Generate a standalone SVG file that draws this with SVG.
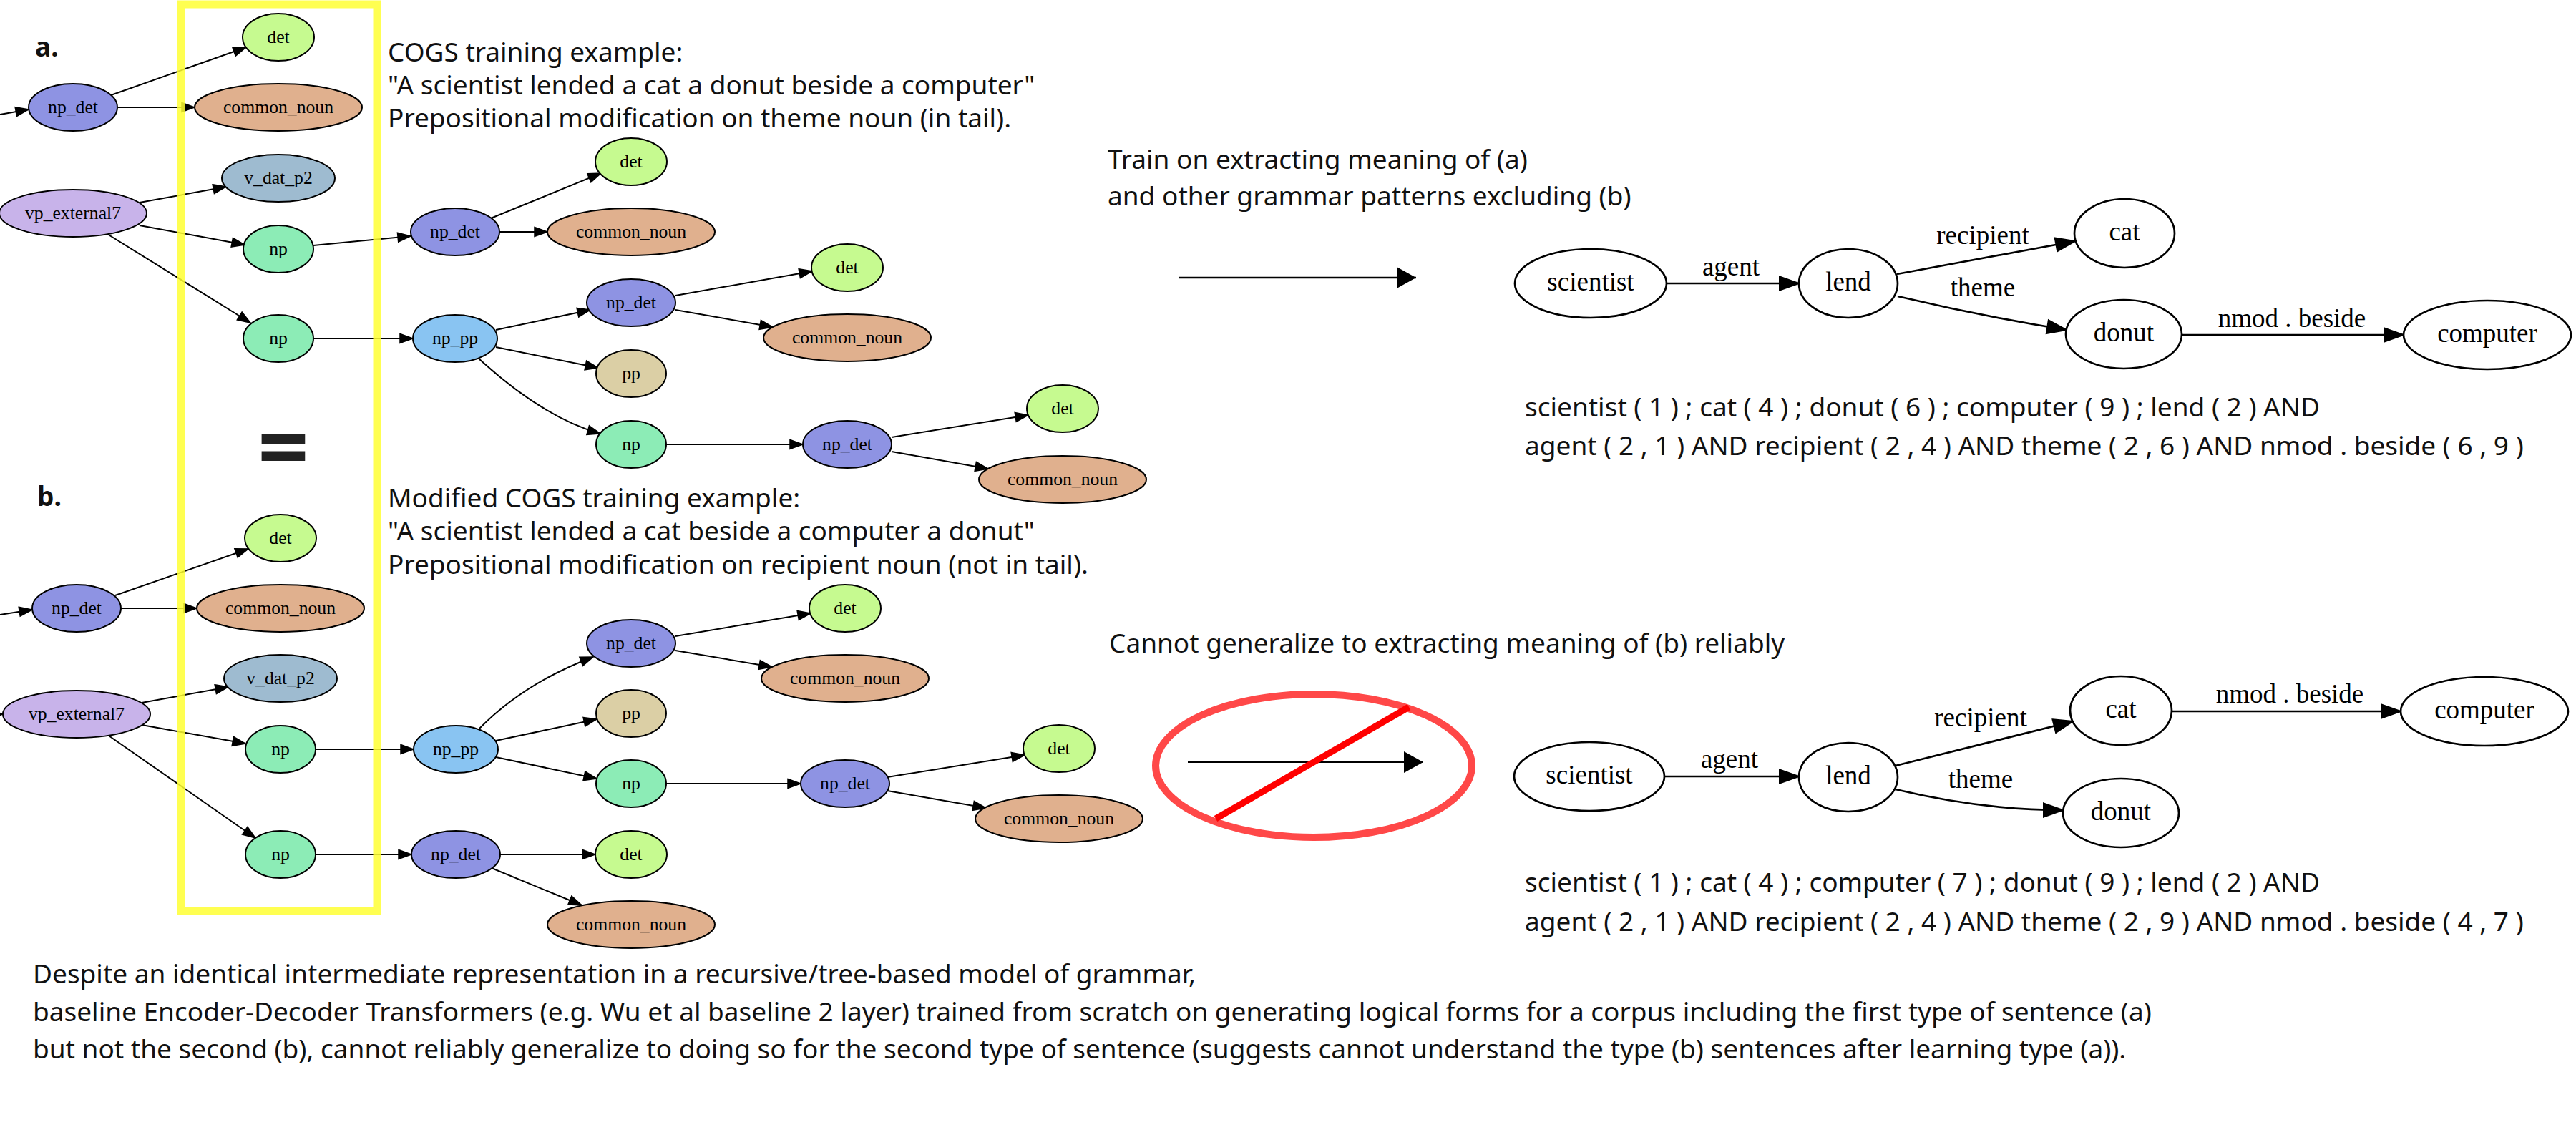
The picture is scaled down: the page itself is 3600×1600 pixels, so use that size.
<svg xmlns="http://www.w3.org/2000/svg" width="3600" height="1600" viewBox="0 0 3600 1600">
<defs>
<style>
.t{font-family:"Noto Sans","Open Sans","DejaVu Sans",sans-serif;font-size:37px;fill:#111}
.lb{font-family:"Noto Sans","Open Sans",sans-serif;font-size:37px;font-weight:bold;fill:#111}
.n ellipse{stroke:#000;stroke-width:2}
.n text{font-family:"Liberation Serif","Times New Roman",serif;font-size:25.7px;text-anchor:middle;fill:#000}
.r ellipse{fill:#fff;stroke:#000;stroke-width:2.7}
.r text{font-family:"Liberation Serif","Times New Roman",serif;font-size:37px;text-anchor:middle;fill:#000}
.e path{fill:none;stroke:#000;stroke-width:2;marker-end:url(#ah)}
.E path{fill:none;stroke:#000;stroke-width:2.7;marker-end:url(#AH)}
.E text{font-family:"Liberation Serif","Times New Roman",serif;font-size:37px;text-anchor:middle;fill:#000}
.det ellipse{fill:#c6fa90}
.cn ellipse{fill:#e0b08e}
.npd ellipse{fill:#8e93e3}
.vd ellipse{fill:#9ebbd0}
.vp ellipse{fill:#c8b3ea}
.np ellipse{fill:#8cecb6}
.npp ellipse{fill:#89c4f2}
.pp ellipse{fill:#dbcfa5}
</style>
<marker id="ah" markerUnits="userSpaceOnUse" markerWidth="24" markerHeight="18" refX="20" refY="9" orient="auto" overflow="visible">
<path d="M2,2.5 L20,9 L2,15.5 z" fill="#000" stroke="#000" stroke-width="1.5"/>
</marker>
<marker id="AH" markerUnits="userSpaceOnUse" markerWidth="32" markerHeight="24" refX="28" refY="12" orient="auto" overflow="visible">
<path d="M1,2.5 L28,12 L1,21.5 z" fill="#000" stroke="#000" stroke-width="2"/>
</marker>
<marker id="BH" markerUnits="userSpaceOnUse" markerWidth="32" markerHeight="34" refX="28" refY="17" orient="auto" overflow="visible">
<path d="M1,2 L28,17 L1,32 z" fill="#000"/>
</marker>
</defs>
<rect width="3600" height="1600" fill="#fff"/>

<!-- texts -->
<g id="texts">
<text class="lb" x="49" y="79">a.</text>
<text class="lb" x="52" y="707">b.</text>
<text class="t" x="542" y="86">COGS training example:</text>
<text class="t" x="542" y="132">"A scientist lended a cat a donut beside a computer"</text>
<text class="t" x="542" y="178">Prepositional modification on theme noun (in tail).</text>
<text class="t" x="542" y="709">Modified COGS training example:</text>
<text class="t" x="542" y="755">"A scientist lended a cat beside a computer a donut"</text>
<text class="t" x="542" y="802">Prepositional modification on recipient noun (not in tail).</text>
<text class="t" x="1548" y="236">Train on extracting meaning of (a)</text>
<text class="t" x="1548" y="287">and other grammar patterns excluding (b)</text>
<text class="t" x="1550" y="912">Cannot generalize to extracting meaning of (b) reliably</text>
<text class="t" x="2131" y="582">scientist ( 1 ) ; cat ( 4 ) ; donut ( 6 ) ; computer ( 9 ) ; lend ( 2 ) AND</text>
<text class="t" x="2131" y="636">agent ( 2 , 1 ) AND recipient ( 2 , 4 ) AND theme ( 2 , 6 ) AND nmod . beside ( 6 , 9 )</text>
<text class="t" x="2131" y="1246">scientist ( 1 ) ; cat ( 4 ) ; computer ( 7 ) ; donut ( 9 ) ; lend ( 2 ) AND</text>
<text class="t" x="2131" y="1301">agent ( 2 , 1 ) AND recipient ( 2 , 4 ) AND theme ( 2 , 9 ) AND nmod . beside ( 4 , 7 )</text>
<text class="t" x="46" y="1374">Despite an identical intermediate representation in a recursive/tree-based model of grammar,</text>
<text class="t" x="46" y="1427">baseline Encoder-Decoder Transformers (e.g. Wu et al baseline 2 layer) trained from scratch on generating logical forms for a corpus including the first type of sentence (a)</text>
<text class="t" x="46" y="1479">but not the second (b), cannot reliably generalize to doing so for the second type of sentence (suggests cannot understand the type (b) sentences after learning type (a)).</text>
<text x="396" y="670" font-family="Noto Sans, sans-serif" font-weight="bold" font-size="125" text-anchor="middle" fill="#222">=</text>
</g>

<!-- connectors -->
<g id="connectors">
<g class="e">
<path d="M0,160 L40,153"/>
<path d="M155,133 L344,66"/>
<path d="M165,150 L272,150"/>
<path d="M195,283 L316,261"/>
<path d="M195,315 L342,342"/>
<path d="M150,327 L350,451"/>
<path d="M438,343 L574,330"/>
<path d="M438,473 L577,473"/>
<path d="M686,305 L840,242"/>
<path d="M698,324 L765,324"/>
<path d="M693,461 L825,433"/>
<path d="M693,485 L836,514"/>
<path d="M668,500 Q758,583 839,606"/>
<path d="M944,413 L1135,379"/>
<path d="M944,433 L1080,457"/>
<path d="M931,621 L1122,621"/>
<path d="M1246,611 L1437,580"/>
<path d="M1246,631 L1381,655"/>

<path d="M0,859 L45,852"/>
<path d="M-30,998 L4,998"/>
<path d="M161,832 L347,767"/>
<path d="M169,850 L275,850"/>
<path d="M198,982 L319,960"/>
<path d="M198,1013 L343,1039"/>
<path d="M152,1028 L357,1171"/>
<path d="M441,1047 L578,1047"/>
<path d="M441,1194 L575,1194"/>
<path d="M670,1018 Q733,954 829,918"/>
<path d="M693,1035 L834,1005"/>
<path d="M693,1058 L834,1088"/>
<path d="M944,889 L1133,857"/>
<path d="M944,909 L1079,932"/>
<path d="M931,1095 L1119,1095"/>
<path d="M1240,1086 L1432,1055"/>
<path d="M1240,1105 L1378,1129"/>
<path d="M699,1194 L832,1194"/>
<path d="M687,1213 L813,1265"/>
</g>
<g class="E">
<path d="M2329,396 L2514,396"/>
<text x="2419" y="385">agent</text>
<path d="M2651,383 L2900,337"/>
<text x="2771" y="341">recipient</text>
<path d="M2652,414 Q2770,442 2888,461"/>
<text x="2771" y="414">theme</text>
<path d="M3049,468 L3359,468"/>
<text x="3203" y="457">nmod . beside</text>

<path d="M2326,1085 L2514,1085"/>
<text x="2417" y="1073">agent</text>
<path d="M2649,1070 L2897,1008"/>
<text x="2768" y="1015">recipient</text>
<path d="M2649,1103 Q2770,1132 2883,1132"/>
<text x="2768" y="1101">theme</text>
<path d="M3035,994 L3355,994"/>
<text x="3200" y="982">nmod . beside</text>
</g>
<path d="M1648,388 L1979,388" fill="none" stroke="#000" stroke-width="2.7" marker-end="url(#BH)"/>
<path d="M1660,1065 L1989,1065" fill="none" stroke="#000" stroke-width="2.2" marker-end="url(#BH)"/>
</g>

<!-- prohibition sign -->
<g id="no-sign">
<ellipse cx="1836" cy="1070" rx="221" ry="100" fill="none" stroke="#ff4848" stroke-width="10"/>
<line x1="1699" y1="1144" x2="1969" y2="988" stroke="#ff0000" stroke-width="9"/>
</g>

<!-- tree a -->
<g id="a1" class="n npd"><ellipse cx="102" cy="150" rx="62" ry="33"/><text x="102" y="158">np_det</text></g>
<g id="a2" class="n det"><ellipse cx="389" cy="52" rx="50" ry="33"/><text x="389" y="60">det</text></g>
<g id="a3" class="n cn"><ellipse cx="389" cy="150" rx="117" ry="33"/><text x="389" y="158">common_noun</text></g>
<g id="a4" class="n vp"><ellipse cx="102" cy="298" rx="103" ry="33"/><text x="102" y="306">vp_external7</text></g>
<g id="a5" class="n vd"><ellipse cx="389" cy="249" rx="79" ry="33"/><text x="389" y="257">v_dat_p2</text></g>
<g id="a6" class="n np"><ellipse cx="389" cy="348" rx="49" ry="33"/><text x="389" y="356">np</text></g>
<g id="a7" class="n np"><ellipse cx="389" cy="473" rx="49" ry="33"/><text x="389" y="481">np</text></g>
<g id="a8" class="n npd"><ellipse cx="636" cy="324" rx="62" ry="33"/><text x="636" y="332">np_det</text></g>
<g id="a9" class="n det"><ellipse cx="882" cy="226" rx="50" ry="33"/><text x="882" y="234">det</text></g>
<g id="a10" class="n cn"><ellipse cx="882" cy="324" rx="117" ry="33"/><text x="882" y="332">common_noun</text></g>
<g id="a11" class="n npp"><ellipse cx="636" cy="473" rx="59" ry="33"/><text x="636" y="481">np_pp</text></g>
<g id="a12" class="n npd"><ellipse cx="882" cy="423" rx="62" ry="33"/><text x="882" y="431">np_det</text></g>
<g id="a13" class="n det"><ellipse cx="1184" cy="374" rx="50" ry="33"/><text x="1184" y="382">det</text></g>
<g id="a14" class="n cn"><ellipse cx="1184" cy="472" rx="117" ry="33"/><text x="1184" y="480">common_noun</text></g>
<g id="a15" class="n pp"><ellipse cx="882" cy="522" rx="49" ry="33"/><text x="882" y="530">pp</text></g>
<g id="a16" class="n np"><ellipse cx="882" cy="621" rx="49" ry="33"/><text x="882" y="629">np</text></g>
<g id="a17" class="n npd"><ellipse cx="1184" cy="621" rx="62" ry="33"/><text x="1184" y="629">np_det</text></g>
<g id="a18" class="n det"><ellipse cx="1485" cy="571" rx="50" ry="33"/><text x="1485" y="579">det</text></g>
<g id="a19" class="n cn"><ellipse cx="1485" cy="670" rx="117" ry="33"/><text x="1485" y="678">common_noun</text></g>

<!-- tree b -->
<g id="b1" class="n npd"><ellipse cx="107" cy="850" rx="62" ry="33"/><text x="107" y="858">np_det</text></g>
<g id="b2" class="n det"><ellipse cx="392" cy="752" rx="50" ry="33"/><text x="392" y="760">det</text></g>
<g id="b3" class="n cn"><ellipse cx="392" cy="850" rx="117" ry="33"/><text x="392" y="858">common_noun</text></g>
<g id="b4" class="n vp"><ellipse cx="107" cy="998" rx="103" ry="33"/><text x="107" y="1006">vp_external7</text></g>
<g id="b5" class="n vd"><ellipse cx="392" cy="948" rx="79" ry="33"/><text x="392" y="956">v_dat_p2</text></g>
<g id="b6" class="n np"><ellipse cx="392" cy="1047" rx="49" ry="33"/><text x="392" y="1055">np</text></g>
<g id="b7" class="n np"><ellipse cx="392" cy="1194" rx="49" ry="33"/><text x="392" y="1202">np</text></g>
<g id="b8" class="n npp"><ellipse cx="637" cy="1047" rx="59" ry="33"/><text x="637" y="1055">np_pp</text></g>
<g id="b9" class="n npd"><ellipse cx="637" cy="1194" rx="62" ry="33"/><text x="637" y="1202">np_det</text></g>
<g id="b10" class="n npd"><ellipse cx="882" cy="899" rx="62" ry="33"/><text x="882" y="907">np_det</text></g>
<g id="b11" class="n det"><ellipse cx="1181" cy="850" rx="50" ry="33"/><text x="1181" y="858">det</text></g>
<g id="b12" class="n cn"><ellipse cx="1181" cy="948" rx="117" ry="33"/><text x="1181" y="956">common_noun</text></g>
<g id="b13" class="n pp"><ellipse cx="882" cy="997" rx="49" ry="33"/><text x="882" y="1005">pp</text></g>
<g id="b14" class="n np"><ellipse cx="882" cy="1095" rx="49" ry="33"/><text x="882" y="1103">np</text></g>
<g id="b15" class="n npd"><ellipse cx="1181" cy="1095" rx="62" ry="33"/><text x="1181" y="1103">np_det</text></g>
<g id="b16" class="n det"><ellipse cx="1480" cy="1046" rx="50" ry="33"/><text x="1480" y="1054">det</text></g>
<g id="b17" class="n cn"><ellipse cx="1480" cy="1144" rx="117" ry="33"/><text x="1480" y="1152">common_noun</text></g>
<g id="b18" class="n det"><ellipse cx="882" cy="1194" rx="50" ry="33"/><text x="882" y="1202">det</text></g>
<g id="b19" class="n cn"><ellipse cx="882" cy="1292" rx="117" ry="33"/><text x="882" y="1300">common_noun</text></g>

<!-- right graph top -->
<g id="t-scientist" class="r"><ellipse cx="2223" cy="396" rx="106" ry="48"/><text x="2223" y="406">scientist</text></g>
<g id="t-lend" class="r"><ellipse cx="2583" cy="396" rx="69" ry="48"/><text x="2583" y="406">lend</text></g>
<g id="t-cat" class="r"><ellipse cx="2969" cy="326" rx="70" ry="48"/><text x="2969" y="336">cat</text></g>
<g id="t-donut" class="r"><ellipse cx="2968" cy="467" rx="81" ry="48"/><text x="2968" y="477">donut</text></g>
<g id="t-computer" class="r"><ellipse cx="3476" cy="468" rx="117" ry="48"/><text x="3476" y="478">computer</text></g>

<!-- right graph bottom -->
<g id="u-scientist" class="r"><ellipse cx="2221" cy="1085" rx="105" ry="48"/><text x="2221" y="1095">scientist</text></g>
<g id="u-lend" class="r"><ellipse cx="2583" cy="1086" rx="69" ry="48"/><text x="2583" y="1096">lend</text></g>
<g id="u-cat" class="r"><ellipse cx="2964" cy="993" rx="71" ry="48"/><text x="2964" y="1003">cat</text></g>
<g id="u-computer" class="r"><ellipse cx="3472" cy="994" rx="117" ry="48"/><text x="3472" y="1004">computer</text></g>
<g id="u-donut" class="r"><ellipse cx="2964" cy="1136" rx="81" ry="48"/><text x="2964" y="1146">donut</text></g>

<!-- highlight box -->
<rect id="highlight" x="253" y="6" width="274" height="1267" fill="none" stroke="#ffff33" stroke-width="11" opacity="0.85"/>
</svg>
